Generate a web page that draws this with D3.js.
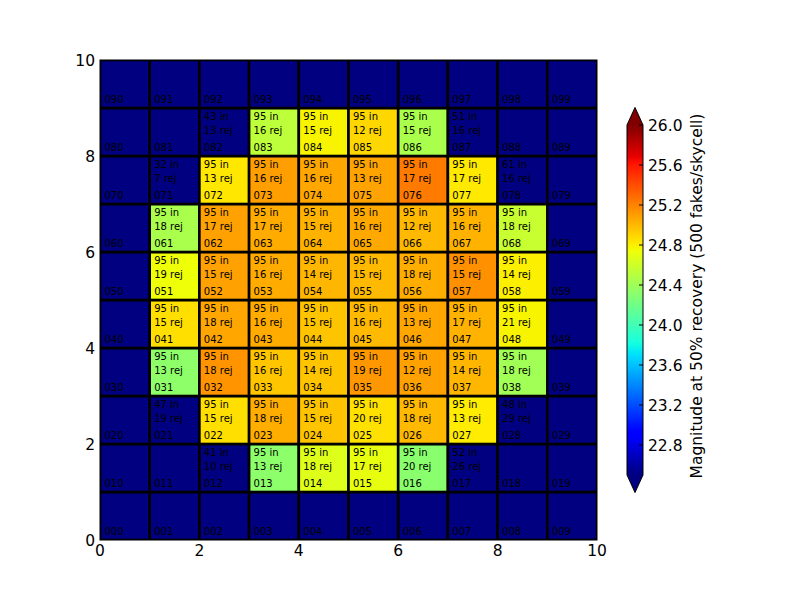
<!DOCTYPE html>
<html>
<head>
<meta charset="utf-8">
<script src="https://cdn.jsdelivr.net/npm/d3@7"></script>
<style>
  body { margin: 0; background: #fff; }
  text { font-family: "DejaVu Sans", sans-serif; }
</style>
</head>
<body>
<div id="chart"></div>
<script>
// grid of skycells, row index r (y) and column index c (x), id = "0" + r + c
var nRows = 10, nCols = 10;

// magnitude at 50% recovery, null = no measurement (drawn with the "under" colour)
var mag = [
  [null, null, null, null,  null,  null,  null,  null,  null,  null],   // row 0
  [null, null, null, 24.32, 24.67, 24.71, 24.31, null,  null,  null],   // row 1
  [null, null, 24.86, 25.04, 24.96, 24.85, 25.00, 24.81, null, null],   // row 2
  [null, 24.33, 25.14, 24.95, 24.96, 25.12, 25.09, 25.01, 24.41, null], // row 3
  [null, 24.86, 25.07, 25.05, 24.96, 25.00, 25.07, 25.02, 24.78, null], // row 4
  [null, 24.74, 25.09, 25.05, 25.01, 25.00, 25.04, 25.15, 24.80, null], // row 5
  [null, 24.45, 25.09, 25.05, 25.02, 25.06, 25.00, 25.02, 24.57, null], // row 6
  [null, null, 24.83, 25.10, 25.07, 25.08, 25.23, 24.82, null, null],   // row 7
  [null, null, null, 24.53, 24.78, 24.89, 24.45, null,  null,  null],   // row 8
  [null, null, null, null,  null,  null,  null,  null,  null,  null]    // row 9
];

// number of fakes "in" per cell
var nIn = [
  [null, null, null, null, null, null, null, null, null, null],
  [null, null, 41,   95,   95,   95,   95,   52,   null, null],
  [null, 47,   95,   95,   95,   95,   95,   95,   48,   null],
  [null, 95,   95,   95,   95,   95,   95,   95,   95,   null],
  [null, 95,   95,   95,   95,   95,   95,   95,   95,   null],
  [null, 95,   95,   95,   95,   95,   95,   95,   95,   null],
  [null, 95,   95,   95,   95,   95,   95,   95,   95,   null],
  [null, 32,   95,   95,   95,   95,   95,   95,   61,   null],
  [null, null, 43,   95,   95,   95,   95,   51,   null, null],
  [null, null, null, null, null, null, null, null, null, null]
];

// number rejected per cell
var nRej = [
  [null, null, null, null, null, null, null, null, null, null],
  [null, null, 10,   13,   18,   17,   20,   26,   null, null],
  [null, 19,   15,   18,   15,   20,   18,   13,   29,   null],
  [null, 13,   18,   16,   14,   19,   12,   14,   18,   null],
  [null, 15,   18,   16,   15,   16,   13,   17,   21,   null],
  [null, 19,   15,   16,   14,   15,   18,   15,   14,   null],
  [null, 18,   17,   17,   15,   16,   12,   16,   18,   null],
  [null, 7,    13,   16,   16,   13,   17,   17,   16,   null],
  [null, null, 13,   16,   15,   12,   15,   16,   null, null],
  [null, null, null, null, null, null, null, null, null, null]
];

var axisTicks = [0, 2, 4, 6, 8, 10];
var cbTicks = [22.8, 23.2, 23.6, 24.0, 24.4, 24.8, 25.2, 25.6, 26.0];
var vmin = 22.5, vmax = 26.0;
var cbLabel = "Magnitude at 50% recovery (500 fakes/skycell)";

// set the dimensions and margins of the graph
var W = 800, H = 600;
var plot = {left: 100, top: 60, right: 597, bottom: 540};
var labelSize = "15.5px", cellSize = "10px";

var svg = d3.select("#chart")
  .append("svg")
    .attr("width", W)
    .attr("height", H);

svg.append("rect").attr("width", W).attr("height", H).attr("fill", "#fff");

var x = d3.scaleLinear().domain([0, nCols]).range([plot.left, plot.right]);
var y = d3.scaleLinear().domain([0, nRows]).range([plot.bottom, plot.top]);

// matplotlib "jet" colormap, piecewise linear per channel
var jr = d3.scaleLinear().domain([0, 0.35, 0.66, 0.89, 1]).range([0, 0, 1, 1, 0.5]);
var jg = d3.scaleLinear().domain([0, 0.125, 0.375, 0.64, 0.91, 1]).range([0, 0, 1, 1, 0, 0]);
var jb = d3.scaleLinear().domain([0, 0.11, 0.34, 0.65, 1]).range([0.5, 1, 1, 0, 0]);
function jet(t) {
  t = Math.max(0, Math.min(1, t));
  return d3.rgb(jr(t) * 255, jg(t) * 255, jb(t) * 255).toString();
}
var norm = d3.scaleLinear().domain([vmin, vmax]).range([0, 1]);
function color(v) {
  if (v == null) return jet(0);
  return jet(norm(v));
}

// flatten the grid
var cells = [];
for (var r = 0; r < nRows; r++) {
  for (var c = 0; c < nCols; c++) {
    cells.push({r: r, c: c, v: mag[r][c], nin: nIn[r][c], nrej: nRej[r][c], id: "0" + r + c});
  }
}

svg.append("clipPath").attr("id", "plotclip")
  .append("rect")
    .attr("x", plot.left).attr("y", plot.top)
    .attr("width", plot.right - plot.left).attr("height", plot.bottom - plot.top);

var g = svg.append("g").attr("clip-path", "url(#plotclip)");

g.selectAll("rect.cell")
  .data(cells)
  .enter().append("rect")
    .attr("class", "cell")
    .attr("x", function(d) { return x(d.c); })
    .attr("y", function(d) { return y(d.r + 1); })
    .attr("width", function(d) { return x(d.c + 1) - x(d.c); })
    .attr("height", function(d) { return y(d.r) - y(d.r + 1); })
    .attr("fill", function(d) { return color(d.v); })
    .attr("stroke", "#000")
    .attr("stroke-width", 2.6);

// cell ids, bottom left
g.selectAll("text.cid")
  .data(cells)
  .enter().append("text")
    .attr("class", "cid")
    .attr("x", function(d) { return x(d.c + 0.1) - 0.5; })
    .attr("y", function(d) { return y(d.r + 0.1) - 0.2; })
    .attr("font-size", cellSize)
    .attr("fill", "#000")
    .text(function(d) { return d.id; });

// counts, top left
var withCounts = cells.filter(function(d) { return d.nin != null; });
g.selectAll("text.nin")
  .data(withCounts)
  .enter().append("text")
    .attr("class", "nin")
    .attr("x", function(d) { return x(d.c + 0.1) - 0.5; })
    .attr("y", function(d) { return y(d.r + 1) + 12; })
    .attr("font-size", cellSize)
    .attr("fill", "#000")
    .text(function(d) { return d.nin + " in"; });
g.selectAll("text.nrej")
  .data(withCounts)
  .enter().append("text")
    .attr("class", "nrej")
    .attr("x", function(d) { return x(d.c + 0.1) - 0.5; })
    .attr("y", function(d) { return y(d.r + 1) + 26; })
    .attr("font-size", cellSize)
    .attr("fill", "#000")
    .text(function(d) { return d.nrej + " rej"; });

// axes frame
svg.append("rect")
  .attr("x", plot.left).attr("y", plot.top)
  .attr("width", plot.right - plot.left).attr("height", plot.bottom - plot.top)
  .attr("fill", "none").attr("stroke", "#000").attr("stroke-width", 1);

// tick labels
svg.selectAll("text.xt")
  .data(axisTicks)
  .enter().append("text")
    .attr("x", function(d) { return x(d); })
    .attr("y", plot.bottom + 16)
    .attr("text-anchor", "middle")
    .attr("font-size", labelSize)
    .text(function(d) { return d; });
svg.selectAll("text.yt")
  .data(axisTicks)
  .enter().append("text")
    .attr("x", plot.left - 5)
    .attr("y", function(d) { return y(d) + 5.5; })
    .attr("text-anchor", "end")
    .attr("font-size", labelSize)
    .text(function(d) { return d; });

// colorbar
var cb = {left: 627, width: 16};
var cy = d3.scaleLinear().domain([vmin, vmax]).range([475, 125]);
var ext = 0.05 * (cy(vmin) - cy(vmax));

var grad = svg.append("defs").append("linearGradient")
  .attr("id", "jetgrad")
  .attr("x1", 0).attr("y1", 1).attr("x2", 0).attr("y2", 0);
grad.selectAll("stop")
  .data(d3.range(0, 1.0001, 0.01))
  .enter().append("stop")
    .attr("offset", function(d) { return d; })
    .attr("stop-color", function(d) { return jet(d); });

svg.append("rect")
  .attr("x", cb.left).attr("y", cy(vmax))
  .attr("width", cb.width).attr("height", cy(vmin) - cy(vmax))
  .attr("fill", "url(#jetgrad)");

var mid = cb.left + cb.width / 2;
svg.append("path")
  .attr("d", "M" + cb.left + "," + cy(vmax) + "L" + mid + "," + (cy(vmax) - ext) + "L" + (cb.left + cb.width) + "," + cy(vmax) + "Z")
  .attr("fill", jet(1));
svg.append("path")
  .attr("d", "M" + cb.left + "," + cy(vmin) + "L" + mid + "," + (cy(vmin) + ext) + "L" + (cb.left + cb.width) + "," + cy(vmin) + "Z")
  .attr("fill", jet(0));

// outline
svg.append("path")
  .attr("d", "M" + cb.left + "," + cy(vmax) + "L" + mid + "," + (cy(vmax) - ext) + "L" + (cb.left + cb.width) + "," + cy(vmax) +
             "L" + (cb.left + cb.width) + "," + cy(vmin) + "L" + mid + "," + (cy(vmin) + ext) + "L" + cb.left + "," + cy(vmin) + "Z")
  .attr("fill", "none").attr("stroke", "#000").attr("stroke-width", 1);

svg.selectAll("line.cbt")
  .data(cbTicks)
  .enter().append("line")
    .attr("x1", cb.left + cb.width - 4).attr("x2", cb.left + cb.width)
    .attr("y1", function(d) { return cy(d); })
    .attr("y2", function(d) { return cy(d); })
    .attr("stroke", "#000").attr("stroke-width", 1);

svg.selectAll("text.cbl")
  .data(cbTicks)
  .enter().append("text")
    .attr("x", cb.left + cb.width + 5)
    .attr("y", function(d) { return cy(d) + 5.5; })
    .attr("font-size", labelSize)
    .text(function(d) { return d.toFixed(1); });

svg.append("text")
  .attr("transform", "translate(702," + ((cy(vmin) + cy(vmax)) / 2 - 4) + ") rotate(-90)")
  .attr("text-anchor", "middle")
  .attr("font-size", labelSize)
  .text(cbLabel);
</script>
</body>
</html>
